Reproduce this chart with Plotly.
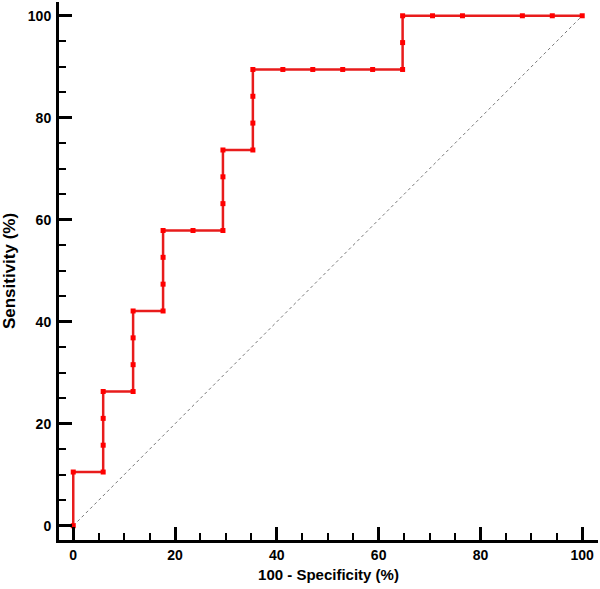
import plotly.graph_objects as go

# ROC curve points (100 - specificity, sensitivity)
fpr = [0, 0, 5.88, 5.88, 5.88, 5.88, 11.76, 11.76, 11.76, 11.76,
       17.65, 17.65, 17.65, 17.65, 23.53, 29.41, 29.41, 29.41, 29.41,
       35.29, 35.29, 35.29, 35.29, 41.18, 47.06, 52.94, 58.82, 64.71,
       64.71, 64.71, 70.59, 76.47, 88.24, 94.12, 100]
tpr = [0, 10.53, 10.53, 15.79, 21.05, 26.32, 26.32, 31.58, 36.84, 42.11,
       42.11, 47.37, 52.63, 57.89, 57.89, 57.89, 63.16, 68.42, 73.68,
       73.68, 78.95, 84.21, 89.47, 89.47, 89.47, 89.47, 89.47, 89.47,
       94.74, 100, 100, 100, 100, 100, 100]

diag_x = [0, 100]
diag_y = [0, 100]

font_fam = "Arial, Liberation Sans, sans-serif"

fig = go.Figure()
fig.add_trace(go.Scatter(x=diag_x, y=diag_y, mode="lines",
                         line=dict(color="rgb(120,120,120)", width=1, dash="dot"),
                         hoverinfo="skip"))
fig.add_trace(go.Scatter(x=fpr, y=tpr, mode="lines+markers",
                         line=dict(color="rgb(232,28,28)", width=2.5),
                         marker=dict(symbol="square", size=5, color="rgb(255,0,0)")))

axis_common = dict(
    showline=True, linewidth=3, linecolor="black",
    showgrid=False, zeroline=False,
    ticks="inside", ticklen=13, tickwidth=3, tickcolor="black",
    tick0=0, dtick=20,
    minor=dict(ticks="inside", ticklen=7, tickwidth=2, tickcolor="black", dtick=5, tick0=0, showgrid=False),
    tickfont=dict(family=font_fam, size=14, color="black", weight="bold"),
)

fig.update_xaxes(range=[-2.8, 103.1], **axis_common,
                 title=dict(text="100 - Specificity (%)", standoff=8,
                            font=dict(family=font_fam, size=15, color="black", weight="bold")))
fig.update_yaxes(range=[-2.8, 102.7], **axis_common, ticklabelstandoff=2,
                 title=dict(text="Sensitivity (%)", standoff=10,
                            font=dict(family=font_fam, size=17, color="black", weight="bold")))

fig.update_layout(width=600, height=589, showlegend=False,
                  plot_bgcolor="white", paper_bgcolor="white",
                  margin=dict(l=59, r=2, t=2, b=49, autoexpand=False))

# page body has a default 8px margin, drop it so the figure sits at the corner
fig.write_html("out.html", config={"displayModeBar": False},
               post_script="document.body.style.margin='0';")
